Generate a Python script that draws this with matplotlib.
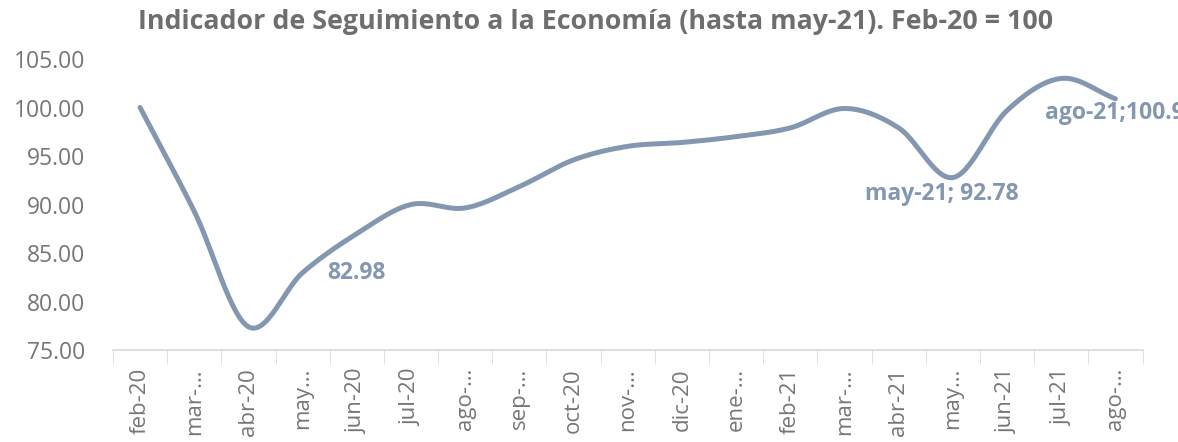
import numpy as np
import matplotlib
matplotlib.use("Agg")
import matplotlib.pyplot as plt

plt.rcParams['font.family'] = ['Open Sans', 'DejaVu Sans']

months = ['feb-20', 'mar-…', 'abr-20', 'may…', 'jun-20', 'jul-20', 'ago-…', 'sep-…',
          'oct-20', 'nov-…', 'dic-20', 'ene-…', 'feb-21', 'mar-…', 'abr-21', 'may…',
          'jun-21', 'jul-21', 'ago-…']
values = [100.0, 89.3, 77.4, 82.98, 87.0, 90.0, 89.65, 91.85, 94.6, 96.0, 96.4,
          97.0, 97.9, 99.9, 97.9, 92.78, 99.7, 103.0, 100.9]

line_color = '#8497B0'
gray = '#767676'


def catmull_rom(y, n=30):
    # smooth like excel's "smoothed line"
    p = np.concatenate([[2 * y[0] - y[1]], y, [2 * y[-1] - y[-2]]])
    xs, ys = [], []
    for i in range(1, len(p) - 2):
        t = np.linspace(0, 1, n, endpoint=False)
        p0, p1, p2, p3 = p[i - 1], p[i], p[i + 1], p[i + 2]
        seg = 0.5 * ((2 * p1) + (-p0 + p2) * t + (2 * p0 - 5 * p1 + 4 * p2 - p3) * t ** 2
                     + (-p0 + 3 * p1 - 3 * p2 + p3) * t ** 3)
        xs.append(i - 1 + t)
        ys.append(seg)
    xs.append([len(y) - 1])
    ys.append([y[-1]])
    return np.concatenate(xs), np.concatenate(ys)


y = np.array(values)
x = np.arange(len(y))
xs, ys = catmull_rom(y)

fig = plt.figure(figsize=(11.78, 4.42), dpi=100)
ax = fig.add_axes([0.0959, 0.208, 0.874, 0.6585])
ax.plot(xs, ys, color=line_color, linewidth=3.6, solid_capstyle='round')

ax.set_xlim(-0.5, len(y) - 0.5)
ax.set_ylim(75, 105)
ax.set_yticks(np.arange(75, 105.1, 5))
ax.set_yticklabels(['%.2f' % v for v in np.arange(75, 105.1, 5)])
ax.tick_params(axis='y', length=0, labelsize=16.5, labelcolor=gray, pad=20)

ax.set_xticks(x)
ax.set_xticklabels(months, rotation=90, fontsize=16, color=gray)
ax.set_xticks(np.arange(-0.5, len(y), 1), minor=True)
ax.tick_params(axis='x', which='major', length=0, pad=13)
ax.tick_params(axis='x', which='minor', length=10, color='#D9D9D9', direction='out')

for s in ['top', 'right', 'left']:
    ax.spines[s].set_visible(False)
ax.spines['bottom'].set_color('#D9D9D9')
ax.spines['bottom'].set_linewidth(1.2)

# data labels (the last one runs off the right edge, as in the original)
lab = dict(fontsize=16.5, fontweight='bold', color=line_color, va='center',
           textcoords='offset points', annotation_clip=False)
ax.annotate('82.98', (3, values[3]), xytext=(18, 0), ha='left', **lab)
ax.annotate('may-21; 92.78', (15, values[15]), xytext=(-8, -12), ha='center', **lab)
ax.annotate('ago-21;100.9', (18, values[18]), xytext=(-51, -10), ha='left', **lab)

fig.text(0.5055, 0.95, 'Indicador de Seguimiento a la Economía (hasta may-21). Feb-20 = 100',
         ha='center', va='center', fontsize=19.3, fontweight='bold', color='#6E6E6E')

fig.savefig('out.png', dpi=100)
